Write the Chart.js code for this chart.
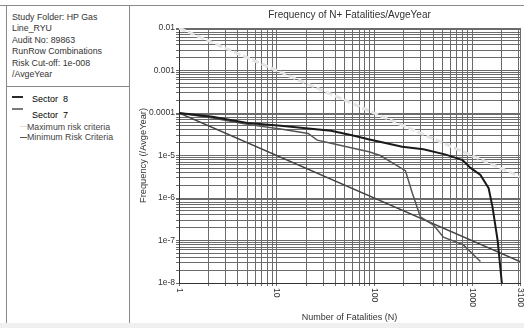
<!DOCTYPE html>
<html lang="en">
<head>
    <meta charset="UTF-8">
    <title>Frequency of N+ Fatalities/AvgeYear</title>
    <script src="https://cdn.jsdelivr.net/npm/chart.js"></script>
    <style>
        html, body { margin: 0; padding: 0; background: #fff; }
        body { width: 524px; height: 328px; position: relative; overflow: hidden; font-family: "Liberation Sans", Arial, sans-serif; color: #333; }
        #topLine { position: absolute; left: 0; top: 5px; width: 524px; height: 1px; background: #8a8a8a; }
        #panel { position: absolute; left: 6px; top: 5px; width: 124px; height: 330px; box-sizing: border-box; border: 1px solid #8a8a8a; }
        #sep { position: absolute; left: 6px; top: 86px; width: 124px; height: 1px; background: #8a8a8a; }
        #info { position: absolute; left: 12px; top: 12px; font-size: 8.8px; line-height: 11.4px; color: #333; }
        .sw { position: absolute; }
        .lg { position: absolute; white-space: nowrap; line-height: 10px; }
        #bottomBand { position: absolute; left: 0; top: 323px; width: 524px; height: 5px; background: #f0f0f0; }
        #chartBox { position: absolute; left: 0; top: 0; width: 524px; height: 328px; }
    </style>
</head>
<body>
    <div id="topLine"></div>
    <div id="panel"></div>
    <div id="sep"></div>

    <!-- Study info -->
    <div id="info">
        Study Folder: HP Gas<br>
        Line_RYU<br>
        Audit No: 89863<br>
        RunRow Combinations<br>
        Risk Cut-off: 1e-008<br>
        /AvgeYear
    </div>

    <!-- Legend -->
    <div class="sw" style="left:12px; top:96px; width:11px; height:2px; background:#2a2a2a;"></div>
    <div class="lg" style="left:32px; top:94px; font-size:9px; color:#000;">Sector&nbsp; 8</div>
    <div class="sw" style="left:12px; top:108px; width:11px; height:2px; background:#7a7a7a;"></div>
    <div class="lg" style="left:32px; top:110px; font-size:9px; color:#000;">Sector&nbsp; 7</div>
    <div class="sw" style="left:20px; top:126px; width:7px; height:1px; background:#dedede;"></div>
    <div class="lg" style="left:27px; top:121.5px; font-size:8.8px; color:#444;">Maximum risk criteria</div>
    <div class="sw" style="left:20px; top:136.5px; width:7px; height:1.5px; background:#555;"></div>
    <div class="lg" style="left:27px; top:132px; font-size:8.8px; color:#444;">Minimum Risk Criteria</div>

    <div id="bottomBand"></div>
    <div id="chartBox"><canvas id="fnChart"></canvas></div>

    <script>
        // FN curve data
        const sector8N = [1, 2.2, 5, 11, 36, 59, 87, 193, 318, 540, 800, 966, 1220, 1480, 1620, 1830, 2020];
        const sector8F = [1e-4, 8.2e-5, 5.8e-5, 5.0e-5, 3.8e-5, 3.0e-5, 2.4e-5, 1.6e-5, 1.4e-5, 1.05e-5, 7.8e-6, 5.1e-6, 3.5e-6, 1.7e-6, 6.2e-7, 1.0e-7, 1e-8];

        const sector7N = [1, 2.2, 5, 11, 21, 26, 36, 88, 115, 208, 245, 296, 404, 509, 816, 1220];
        const sector7F = [1e-4, 7.6e-5, 5.4e-5, 4.2e-5, 3.3e-5, 2.3e-5, 1.95e-5, 1.23e-5, 1.0e-5, 4.4e-6, 1.3e-6, 3.6e-7, 2.3e-7, 1.2e-7, 7.9e-8, 3.2e-8];

        const maxCritN = [1, 3100];
        const maxCritF = [1e-2, 3.2e-6];
        const minCritN = [1, 3100];
        const minCritF = [1e-4, 3.2e-8];

        // tick labels
        const xTickValues = [1, 10, 100, 1000, 3100];
        const xTickLabels = ['1', '10', '100', '1000', '3100'];
        const yTickValues = [1e-2, 1e-3, 1e-4, 1e-5, 1e-6, 1e-7, 1e-8];
        const yTickLabels = ['0.01', '0.001', '0.0001', '1e-5', '1e-6', '1e-7', '1e-8'];

        // grid lines at 1..9 in every decade
        const xGrid = [];
        for (let e = 0; e <= 3; e++) {
            for (let m = 1; m <= 9; m++) {
                const v = m * Math.pow(10, e);
                if (v <= 3100) xGrid.push(v);
            }
        }
        xGrid.push(3100);
        const yGrid = [];
        for (let e = -8; e <= -3; e++) {
            for (let m = 1; m <= 9; m++) yGrid.push(m * Math.pow(10, e));
        }
        yGrid.push(1e-2);

        const FONT = '"Liberation Sans", Arial, sans-serif';
        const gridColor = '#6b6b6b';

        function pts(xs, ys) {
            return xs.map((x, i) => ({ x: x, y: ys[i] }));
        }

        function same(a, b) {
            return Math.abs(a / b - 1) < 1e-6;
        }

        // draws the x tick labels turned clockwise, as in the original
        const xLabelPlugin = {
            id: 'xLabels',
            afterDraw(chart) {
                const ctx = chart.ctx;
                const xs = chart.scales.x;
                ctx.save();
                ctx.fillStyle = '#333';
                ctx.font = '8.5px ' + FONT;
                ctx.textAlign = 'left';
                ctx.textBaseline = 'middle';
                xTickValues.forEach((v, i) => {
                    const px = xs.getPixelForValue(v);
                    ctx.save();
                    ctx.translate(px, xs.top + 5);
                    ctx.rotate(Math.PI / 2);
                    ctx.fillText(xTickLabels[i], 0, 0);
                    ctx.restore();
                });
                ctx.restore();
            }
        };

        const ctx = document.getElementById('fnChart').getContext('2d');
        new Chart(ctx, {
            type: 'line',
            data: {
                datasets: [
                    { label: 'Sector 8', data: pts(sector8N, sector8F), borderColor: '#1a1a1a', borderWidth: 2, order: 0 },
                    { label: 'Sector 7', data: pts(sector7N, sector7F), borderColor: '#555', borderWidth: 1.5, order: 1 },
                    { label: 'Maximum risk criteria', data: pts(maxCritN, maxCritF), borderColor: '#e4e4e4', borderWidth: 3, borderDash: [7, 3], order: 3 },
                    { label: 'Minimum Risk Criteria', data: pts(minCritN, minCritF), borderColor: '#444', borderWidth: 1.5, order: 2 }
                ]
            },
            options: {
                responsive: true,
                maintainAspectRatio: false,
                animation: false,
                elements: { point: { radius: 0 }, line: { tension: 0 } },
                layout: { padding: { left: 130, right: 4, top: 0, bottom: 0 } },
                plugins: {
                    legend: { display: false },
                    tooltip: { enabled: false },
                    title: {
                        display: true,
                        fullSize: false,
                        text: 'Frequency of N+ Fatalities/AvgeYear',
                        color: '#333',
                        font: { family: FONT, size: 10, weight: 'normal' },
                        padding: { top: 9, bottom: 7 }
                    }
                },
                scales: {
                    x: {
                        type: 'logarithmic',
                        min: 1,
                        max: 3100,
                        afterBuildTicks: (s) => { s.ticks = xGrid.map(v => ({ value: v })); },
                        afterFit: (s) => { s.height = 45; },
                        ticks: { display: false },
                        grid: { color: gridColor, tickLength: 3 },
                        border: { color: '#333' },
                        title: {
                            display: true,
                            text: 'Number of Fatalities (N)',
                            color: '#333',
                            font: { family: FONT, size: 9 },
                            padding: { top: 0, bottom: 4.6 }
                        }
                    },
                    y: {
                        type: 'logarithmic',
                        min: 1e-8,
                        max: 1e-2,
                        afterBuildTicks: (s) => { s.ticks = yGrid.map(v => ({ value: v })); },
                        afterFit: (s) => { s.width = 49; },
                        ticks: {
                            autoSkip: false,
                            padding: 1,
                            color: '#333',
                            font: { family: FONT, size: 8.5 },
                            callback: (v) => {
                                const i = yTickValues.findIndex(t => same(t, v));
                                return i >= 0 ? yTickLabels[i] : '';
                            }
                        },
                        grid: { color: gridColor, tickLength: 3 },
                        border: { color: '#333' },
                        title: {
                            display: true,
                            text: 'Frequency (/AvgeYear)',
                            color: '#333',
                            font: { family: FONT, size: 9.3 },
                            padding: { top: 7.4, bottom: 0 }
                        }
                    }
                }
            },
            plugins: [xLabelPlugin]
        });
    </script>
</body>
</html>
